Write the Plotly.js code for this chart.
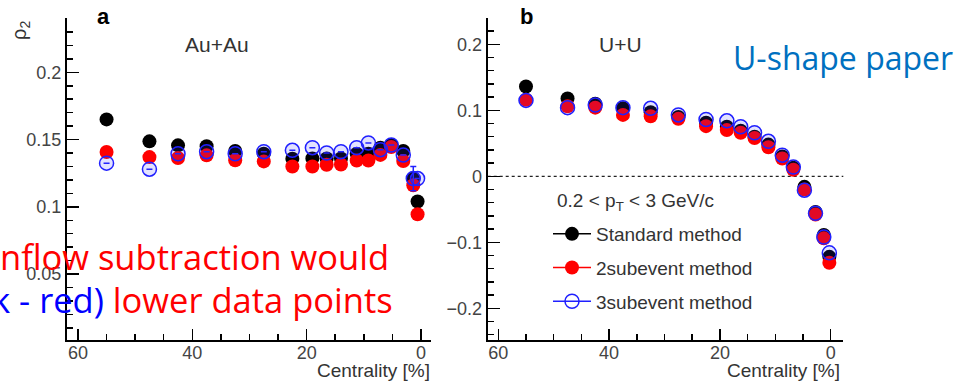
<!DOCTYPE html>
<html>
<head>
<meta charset="utf-8">
<script src="https://cdn.plot.ly/plotly-3.0.1.min.js"></script>
<style>html,body{margin:0;padding:0;background:#fff;}#chart{width:975px;height:390px;}</style>
</head>
<body>
<div id="chart"></div>
<script>
// ---- data ----
var centAu = [55, 47.5, 42.5, 37.5, 32.5, 27.5, 22.5, 19, 16.5, 14, 11.25, 9.2, 7.1, 5.2, 3.1, 1.35, 0.6];
var auStandard = [0.165, 0.1487, 0.1457, 0.145, 0.1415, 0.1395, 0.1358, 0.136, 0.136, 0.136, 0.1395, 0.1395, 0.144, 0.146, 0.1415, 0.121, 0.104];
var au2sub = [0.1408, 0.137, 0.1363, 0.1383, 0.1346, 0.1338, 0.130, 0.130, 0.1313, 0.1315, 0.1345, 0.1345, 0.1386, 0.1445, 0.134, 0.116, 0.0945];
var au3sub = [0.1325, 0.128, 0.1395, 0.141, 0.1395, 0.141, 0.142, 0.144, 0.140, 0.141, 0.144, 0.1475, 0.1425, 0.146, 0.1385, 0.121, 0.121];
var au3subErr = [0, 0, 0, 0, 0, 0, 0, 0, 0, 0, 0, 0, 0, 0, 0, 0.009, 0];

var centUU = [55, 47.5, 42.5, 37.5, 32.5, 27.5, 22.5, 18.75, 16.25, 13.75, 11.25, 8.75, 6.75, 4.75, 2.75, 1.25, 0.25];
var uuStandard = [0.136, 0.118, 0.110, 0.103, 0.097, 0.090, 0.081, 0.075, 0.069, 0.060, 0.048, 0.030, 0.013, -0.016, -0.054, -0.089, -0.122];
var uu2sub = [0.116, 0.106, 0.104, 0.093, 0.091, 0.087, 0.076, 0.070, 0.066, 0.058, 0.044, 0.027, 0.010, -0.020, -0.058, -0.094, -0.131];
var uu3sub = [0.115, 0.104, 0.108, 0.104, 0.103, 0.093, 0.086, 0.084, 0.075, 0.066, 0.053, 0.032, 0.014, -0.021, -0.056, -0.092, -0.116];

var seriesNames = ['Standard method', '2subevent method', '3subevent method'];

// ---- helpers ----
var W = 975, H = 390;
function px(x) { return x / W; }
function py(y) { return (H - y) / H; }

var blackM = {size: 14, color: '#000000'};
var redM = {size: 14, color: '#ff0000'};
var blueM = {size: 14, color: 'rgba(60,60,255,0.15)', line: {color: '#2020ff', width: 1.5}};

var traces = [
  {x: centAu, y: auStandard, xaxis: 'x', yaxis: 'y', mode: 'markers', marker: blackM, showlegend: false, hoverinfo: 'skip'},
  {x: centAu, y: au2sub, xaxis: 'x', yaxis: 'y', mode: 'markers', marker: redM, showlegend: false, hoverinfo: 'skip'},
  {x: centAu, y: au3sub, xaxis: 'x', yaxis: 'y', mode: 'markers', marker: blueM, showlegend: false, hoverinfo: 'skip',
   error_y: {type: 'data', array: au3subErr, visible: true, color: '#2020ff', thickness: 1.5, width: 3}},
  {x: centUU, y: uuStandard, xaxis: 'x2', yaxis: 'y2', mode: 'markers', marker: blackM, showlegend: false, hoverinfo: 'skip'},
  {x: centUU, y: uu2sub, xaxis: 'x2', yaxis: 'y2', mode: 'markers', marker: redM, showlegend: false, hoverinfo: 'skip'},
  {x: centUU, y: uu3sub, xaxis: 'x2', yaxis: 'y2', mode: 'markers', marker: blueM, showlegend: false, hoverinfo: 'skip'},
  // legend entries
  {x: [null], y: [null], xaxis: 'x2', yaxis: 'y2', mode: 'lines+markers', name: seriesNames[0], legendgroup: 'a',
   marker: blackM, line: {color: '#000', width: 1.5}},
  {x: [null], y: [null], xaxis: 'x2', yaxis: 'y2', mode: 'lines+markers', name: seriesNames[1], legendgroup: 'b',
   marker: redM, line: {color: '#ff0000', width: 1.5}},
  {x: [null], y: [null], xaxis: 'x2', yaxis: 'y2', mode: 'lines+markers', name: seriesNames[2], legendgroup: 'c',
   marker: {size: 14, color: 'rgba(255,255,255,0)', line: {color: '#2020ff', width: 1.5}}, line: {color: '#2020ff', width: 1.5}}
];

var fam = 'Liberation Sans, Arial, sans-serif';
function xax(domain, range) {
  return {domain: domain, range: range, showgrid: false, zeroline: false, showline: true, linecolor: '#000', linewidth: 2,
    ticks: 'inside', ticklen: 11, tickwidth: 1.5, tickcolor: '#000', dtick: 20, tick0: 0,
    tickfont: {family: fam, size: 18, color: '#444'}, ticklabelstandoff: -5,
    minor: {dtick: 5, ticks: 'inside', ticklen: 6, tickwidth: 1.5, tickcolor: '#000', showgrid: false},
    fixedrange: true};
}
function yax(domain, range, dtick, mdtick, anchor) {
  return {domain: domain, range: range, anchor: anchor, showgrid: false, zeroline: false, showline: true, linecolor: '#000', linewidth: 2,
    ticks: 'inside', ticklen: 12, tickwidth: 1.5, tickcolor: '#000', dtick: dtick, tick0: 0,
    tickfont: {family: fam, size: 18, color: '#444'},
    minor: {dtick: mdtick, ticks: 'inside', ticklen: 6, tickwidth: 1.5, tickcolor: '#000', showgrid: false},
    fixedrange: true};
}

var yDom = [py(340), py(18)];
function ann(text, x, y, size, opts) {
  var a = {text: text, xref: 'paper', yref: 'paper', x: px(x), y: py(y), showarrow: false,
    xanchor: 'center', yanchor: 'middle', font: {family: fam, size: size, color: '#333'}};
  for (var k in opts) { if (k === 'font') { for (var f in opts.font) a.font[f] = opts.font[f]; } else a[k] = opts[k]; }
  return a;
}

var layout = {
  width: W, height: H,
  margin: {l: 0, r: 0, t: 0, b: 0},
  paper_bgcolor: '#fff', plot_bgcolor: 'rgba(0,0,0,0)',
  xaxis: xax([px(67), px(431)], [61.92, -1.75]),
  yaxis: yax(yDom, [0.001, 0.2404], 0.05, 0.01, 'x'),
  xaxis2: xax([px(487.7), px(843.3)], [61.91, -2.27]),
  yaxis2: yax(yDom, [-0.248, 0.2398], 0.1, 0.02, 'x2'),
  showlegend: true,
  legend: {x: px(548), y: py(215), xanchor: 'left', yanchor: 'top', bgcolor: 'rgba(0,0,0,0)',
    font: {family: fam, size: 19, color: '#333'},
    traceorder: 'grouped', tracegroupgap: 6, itemwidth: 38},
  shapes: [
    {type: 'line', xref: 'x2 domain', x0: 0, x1: 1, yref: 'y2', y0: 0, y1: 0, layer: 'below',
     line: {color: '#222', width: 1.2, dash: 'dot'}}
  ],
  annotations: [
    ann('ρ<sub>2</sub>', 20, 31, 20, {textangle: -90}),
    ann('<b>a</b>', 103, 17, 22, {font: {color: '#000'}}),
    ann('Au+Au', 217, 44.5, 21),
    ann('<b>b</b>', 526, 17, 22, {font: {color: '#000'}}),
    ann('U+U', 620, 44.5, 21),
    ann('Centrality [%]', 432, 370, 19, {xanchor: 'right'}),
    ann('Centrality [%]', 842, 370, 19, {xanchor: 'right'}),
    ann('0.2 &lt; p<sub>T</sub> &lt; 3 GeV/c', 555, 202, 19, {xanchor: 'left'}),
    ann('U-shape paper', 731, 57, 32, {xanchor: 'left', font: {family: 'Open Sans, sans-serif', color: '#0070C0'}}),
    ann('nflow subtraction would', 391, 256, 34.5, {xanchor: 'right', font: {family: 'Open Sans, sans-serif', color: '#ff0000'}}),
    ann('<span style="color:#0000ff">k - red)</span> lower data points', 395, 299, 34.5, {xanchor: 'right', font: {family: 'Open Sans, sans-serif', color: '#ff0000'}})
  ]
};

Plotly.newPlot('chart', traces, layout, {displayModeBar: false, staticPlot: true});
</script>
</body>
</html>
